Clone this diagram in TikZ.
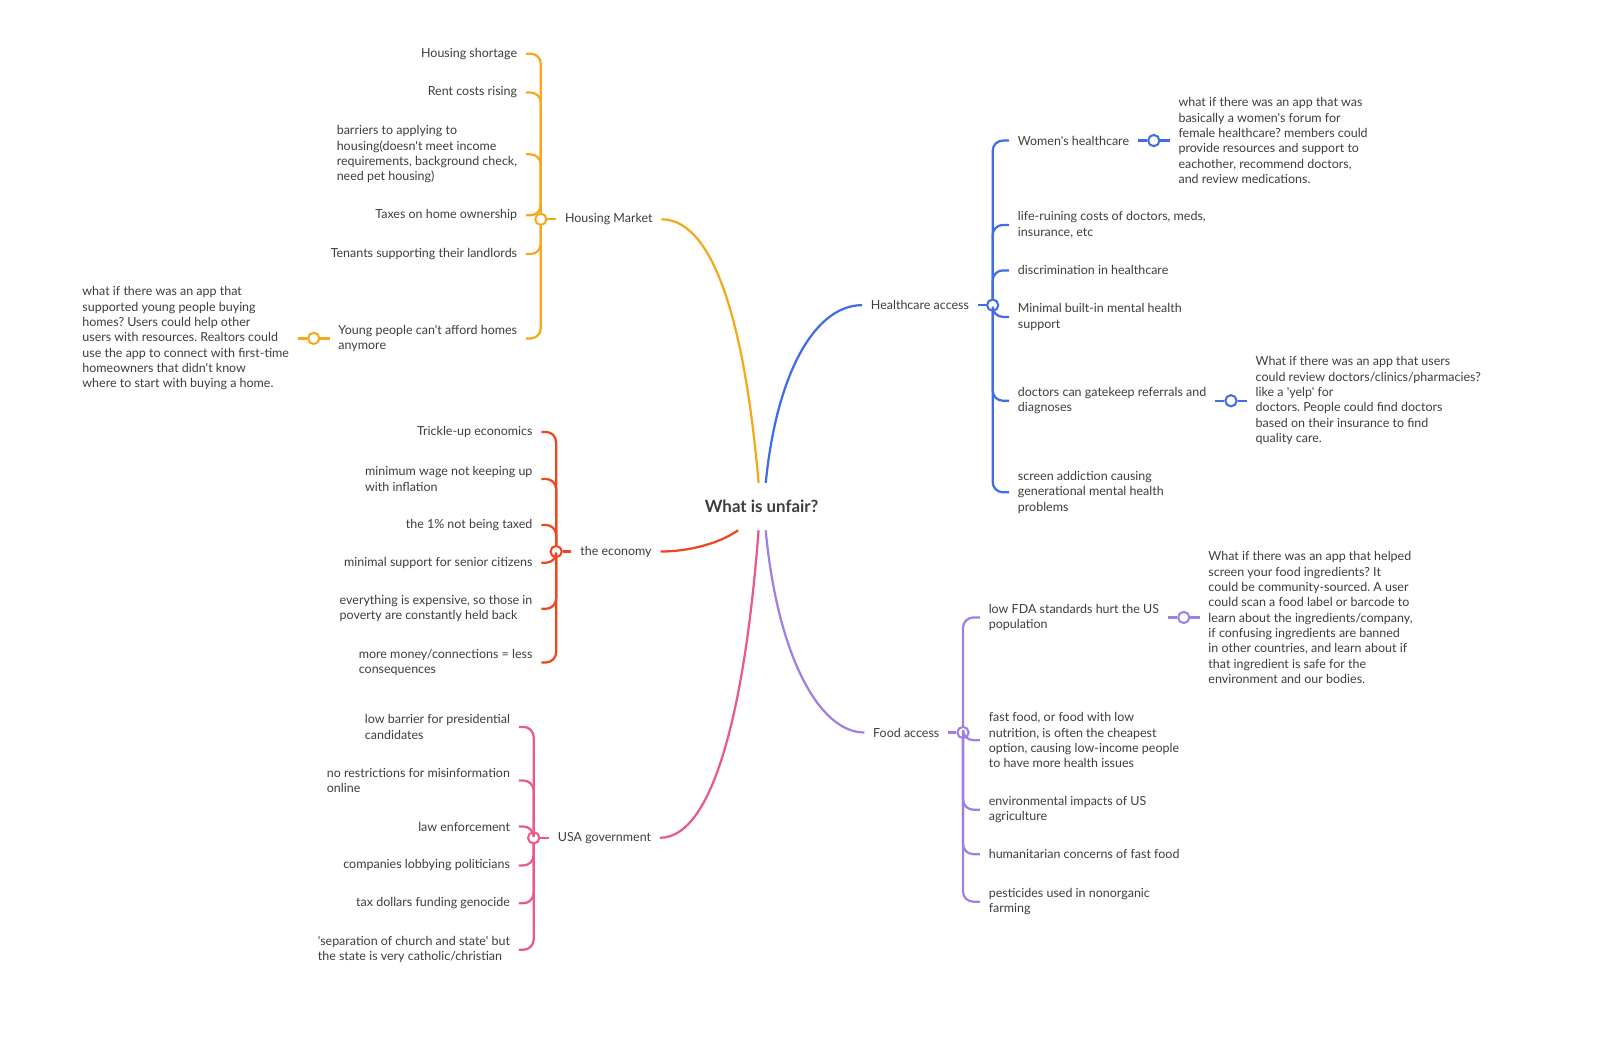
\documentclass[tikz,border=0pt]{standalone}
\usepackage{fontspec}
\setmainfont{Lato}[Ligatures=TeXOff]
\usetikzlibrary{positioning, calc}
\definecolor{ink}{HTML}{3D3D3D}
\definecolor{hmcol}{HTML}{F5A81C}
\definecolor{hccol}{HTML}{406CE8}
\definecolor{ecocol}{HTML}{F0461F}
\definecolor{govcol}{HTML}{E9598C}
\definecolor{foodcol}{HTML}{A07FE5}
\frenchspacing

\begin{document}
\begin{tikzpicture}[x=1pt, y=1pt,
    topic/.style={font=\fontsize{16.5}{20}\selectfont\bfseries, text=ink, minimum height=46pt, inner xsep=4pt},
    branch/.style={font=\fontsize{12.2}{15}\selectfont, text=ink, inner xsep=8.5pt, inner ysep=2pt},
    leaf/.style={branch, align=left},
    hub/.style={circle, draw, fill=white, line width=2pt, minimum size=11pt, inner sep=0pt},
    main/.style={line width=2.2pt},
    brace/.style={line width=2.2pt, rounded corners=10pt}]
\useasboundingbox (0,1.5) rectangle (1568,-1014.5);

% centre and main topics
\node[topic] (unfair) at (745,-494) {What is unfair?};
\node[branch, anchor=west] (housing) at (544,-213) {Housing Market};
\node[branch, anchor=west] (economy) at (559,-538) {the economy};
\node[branch, anchor=west] (government) at (537,-818) {USA government};
\node[branch, anchor=east] (health) at (956.5,-297) {Healthcare access};
\node[branch, anchor=east] (food) at (927.5,-715) {Food access};

\node[hub, draw=hmcol] (housinghub) at (529,-213) {};
\node[hub, draw=ecocol] (economyhub) at (544,-538) {};
\node[hub, draw=govcol] (governmenthub) at (522,-818) {};
\node[hub, draw=hccol] (healthhub) at (971,-297) {};
\node[hub, draw=foodcol] (foodhub) at (942,-715) {};

% housing
\node[leaf, anchor=east] (hshort) at (514.5,-51) {Housing shortage};
\node[leaf, anchor=east] (rent) at (514.5,-89) {Rent costs rising};
\node[leaf, anchor=east] (barriers) at (514.5,-149.5) {barriers to applying to\\housing(doesn't meet income\\requirements, background check,\\need pet housing)};
\node[leaf, anchor=east] (taxes) at (514.5,-209) {Taxes on home ownership};
\node[leaf, anchor=east] (tenants) at (514.5,-247) {Tenants supporting their landlords};
\node[leaf, anchor=east] (young) at (514.5,-329.5) {Young people can't afford homes\\anymore};
\node[leaf, left=31pt of young] (youngidea) {what if there was an app that\\supported young people buying\\homes? Users could help other\\users with resources. Realtors could\\use the app to connect with first-time\\homeowners that didn't know\\where to start with buying a home.};
\node[hub, draw=hmcol] (younghub) at ($(young.west)!0.5!(youngidea.east)$) {};

% economy
\node[leaf, anchor=east] (trickle) at (529.5,-421) {Trickle-up economics};
\node[leaf, anchor=east] (minwage) at (529.5,-467) {minimum wage not keeping up\\with inflation};
\node[leaf, anchor=east] (onepct) at (529.5,-512) {the 1\% not being taxed};
\node[leaf, anchor=east] (senior) at (529.5,-549) {minimal support for senior citizens};
\node[leaf, anchor=east] (expensive) at (529.5,-594) {everything is expensive, so those in\\poverty are constantly held back};
\node[leaf, anchor=east] (money) at (529.5,-646.5) {more money/connections = less\\consequences};

% government
\node[leaf, anchor=east] (lowbar) at (507.5,-709.5) {low barrier for presidential\\candidates};
\node[leaf, anchor=east] (misinfo) at (507.5,-762) {no restrictions for misinformation\\online};
\node[leaf, anchor=east] (law) at (507.5,-807) {law enforcement};
\node[leaf, anchor=east] (lobby) at (507.5,-845) {companies lobbying politicians};
\node[leaf, anchor=east] (genocide) at (507.5,-882) {tax dollars funding genocide};
\node[leaf, anchor=east] (church) at (507.5,-927.5) {'separation of church and state' but\\the state is very catholic/christian};

% healthcare
\node[leaf, anchor=west] (women) at (987,-136) {Women's healthcare};
\node[leaf, right=31pt of women] (womenidea) {what if there was an app that was\\basically a women's forum for\\female healthcare? members could\\provide resources and support to\\eachother, recommend doctors,\\and review medications.};
\node[hub, draw=hccol] (womenhub) at ($(women.east)!0.5!(womenidea.west)$) {};
\node[leaf, anchor=west] (costs) at (987,-218.5) {life-ruining costs of doctors, meds,\\insurance, etc};
\node[leaf, anchor=west] (discrim) at (987,-263) {discrimination in healthcare};
\node[leaf, anchor=west] (mental) at (987,-308.5) {Minimal built-in mental health\\support};
\node[leaf, anchor=west] (gatekeep) at (987,-390.5) {doctors can gatekeep referrals and\\diagnoses};
\node[leaf, right=31pt of gatekeep] (gatekeepidea) {What if there was an app that users\\could review doctors/clinics/pharmacies?\\like a 'yelp' for\\doctors. People could find doctors\\based on their insurance to find\\quality care.};
\node[hub, draw=hccol] (gatekeephub) at ($(gatekeep.east)!0.5!(gatekeepidea.west)$) {};
\node[leaf, anchor=west] (screen) at (987,-480) {screen addiction causing\\generational mental health\\problems};

% food
\node[leaf, anchor=west] (fda) at (958.5,-602.5) {low FDA standards hurt the US\\population};
\node[leaf, right=31pt of fda] (fdaidea) {What if there was an app that helped\\screen your food ingredients? It\\could be community-sourced. A user\\could scan a food label or barcode to\\learn about the ingredients/company,\\if confusing ingredients are banned\\in other countries, and learn about if\\that ingredient is safe for the\\environment and our bodies.};
\node[hub, draw=foodcol] (fdahub) at ($(fda.east)!0.5!(fdaidea.west)$) {};
\node[leaf, anchor=west] (fastfood) at (958.5,-722.5) {fast food, or food with low\\nutrition, is often the cheapest\\option, causing low-income people\\to have more health issues};
\node[leaf, anchor=west] (enviro) at (958.5,-790.5) {environmental impacts of US\\agriculture};
\node[leaf, anchor=west] (humanit) at (958.5,-834) {humanitarian concerns of fast food};
\node[leaf, anchor=west] (pesticides) at (958.5,-880.5) {pesticides used in nonorganic\\farming};

% main curves
\draw[main, hmcol] ([xshift=-3pt]unfair.north) .. controls +(-12,140) and +(55,0) .. (housing.east);
\draw[main, hccol] ([xshift=4pt]unfair.north) .. controls +(11,110) and +(-45,0) .. (health.west);
\draw[main, ecocol] ([xshift=-23pt]unfair.south) .. controls +(-20,-14) and +(25,0) .. (economy.east);
\draw[main, govcol] ([xshift=-3pt]unfair.south) .. controls +(-12,-160) and +(55,0) .. (government.east);
\draw[main, foodcol] ([xshift=4pt]unfair.south) .. controls +(11,-120) and +(-45,0) .. (food.west);

\draw[main, hmcol] (housinghub) -- (housing);
\draw[main, ecocol] (economyhub) -- (economy);
\draw[main, govcol] (governmenthub) -- (government);
\draw[main, hccol] (healthhub) -- (health);
\draw[main, foodcol] (foodhub) -- (food);

% braces
\draw[brace, hmcol] (housinghub) |- (hshort);
\draw[brace, hmcol] (housinghub) |- (rent);
\draw[brace, hmcol] (housinghub) |- (barriers);
\draw[brace, hmcol] (housinghub) |- (taxes);
\draw[brace, hmcol] (housinghub) |- (tenants);
\draw[brace, hmcol] (housinghub) |- (young);
\draw[brace, ecocol] (economyhub) |- (trickle);
\draw[brace, ecocol] (economyhub) |- (minwage);
\draw[brace, ecocol] (economyhub) |- (onepct);
\draw[brace, ecocol] (economyhub) |- (senior);
\draw[brace, ecocol] (economyhub) |- (expensive);
\draw[brace, ecocol] (economyhub) |- (money);
\draw[brace, govcol] (governmenthub) |- (lowbar);
\draw[brace, govcol] (governmenthub) |- (misinfo);
\draw[brace, govcol] (governmenthub) |- (law);
\draw[brace, govcol] (governmenthub) |- (lobby);
\draw[brace, govcol] (governmenthub) |- (genocide);
\draw[brace, govcol] (governmenthub) |- (church);
\draw[brace, hccol] (healthhub) |- (women);
\draw[brace, hccol] (healthhub) |- (costs);
\draw[brace, hccol] (healthhub) |- (discrim);
\draw[brace, hccol] (healthhub) |- (mental);
\draw[brace, hccol] (healthhub) |- (gatekeep);
\draw[brace, hccol] (healthhub) |- (screen);
\draw[brace, foodcol] (foodhub) |- (fda);
\draw[brace, foodcol] (foodhub) |- (fastfood);
\draw[brace, foodcol] (foodhub) |- (enviro);
\draw[brace, foodcol] (foodhub) |- (humanit);
\draw[brace, foodcol] (foodhub) |- (pesticides);

% ideas
\draw[main, hmcol] (young) -- (younghub);
\draw[main, hmcol] (younghub) -- (youngidea);
\draw[main, hccol] (women) -- (womenhub);
\draw[main, hccol] (womenhub) -- (womenidea);
\draw[main, hccol] (gatekeep) -- (gatekeephub);
\draw[main, hccol] (gatekeephub) -- (gatekeepidea);
\draw[main, foodcol] (fda) -- (fdahub);
\draw[main, foodcol] (fdahub) -- (fdaidea);
\end{tikzpicture}
\end{document}
